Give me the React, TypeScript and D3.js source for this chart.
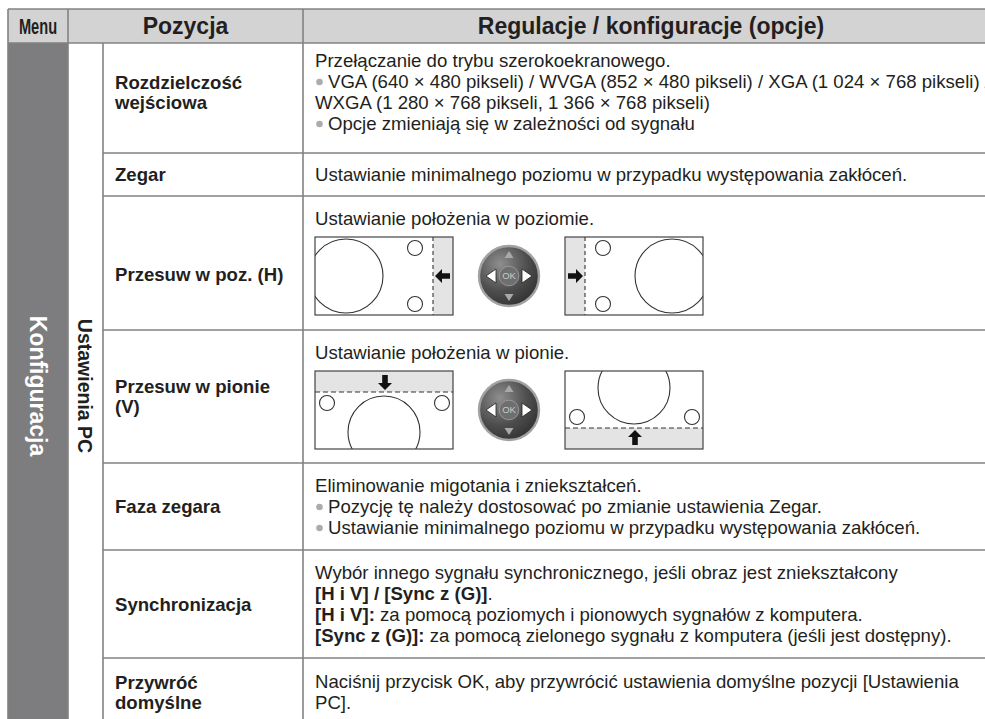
import React, { useEffect, useRef } from "react";
import * as d3 from "d3";

// table content
const headerLabels = ["Menu", "Pozycja", "Regulacje / konfiguracje (opcje)"];
const menuName = "Konfiguracja";
const groupName = "Ustawienia PC";

const itemNames = [
  ["Rozdzielczość", "wejściowa"],
  ["Zegar"],
  ["Przesuw w poz. (H)"],
  ["Przesuw w pionie", "(V)"],
  ["Faza zegara"],
  ["Synchronizacja"],
  ["Przywróć", "domyślne"],
];

// "• " starts a bullet line, **text** is bold
const itemDescriptions = [
  [
    "Przełączanie do trybu szerokoekranowego.",
    "• VGA (640 × 480 pikseli) / WVGA (852 × 480 pikseli) / XGA (1 024 × 768 pikseli) /",
    "WXGA (1 280 × 768 pikseli, 1 366 × 768 pikseli)",
    "• Opcje zmieniają się w zależności od sygnału",
  ],
  ["Ustawianie minimalnego poziomu w przypadku występowania zakłóceń."],
  ["Ustawianie położenia w poziomie."],
  ["Ustawianie położenia w pionie."],
  [
    "Eliminowanie migotania i zniekształceń.",
    "• Pozycję tę należy dostosować po zmianie ustawienia Zegar.",
    "• Ustawianie minimalnego poziomu w przypadku występowania zakłóceń.",
  ],
  [
    "Wybór innego sygnału synchronicznego, jeśli obraz jest zniekształcony",
    "**[H i V] / [Sync z (G)]**.",
    "**[H i V]:** za pomocą poziomych i pionowych sygnałów z komputera.",
    "**[Sync z (G)]:** za pomocą zielonego sygnału z komputera (jeśli jest dostępny).",
  ],
  [
    "Naciśnij przycisk OK, aby przywrócić ustawienia domyślne pozycji [Ustawienia",
    "PC].",
  ],
];

const itemDiagrams = ["", "", "h", "v", "", "", ""];

// layout
const W = 985;
const H = 719;
const FONT = "'Liberation Sans', Arial, Helvetica, sans-serif";
const TEXT = "#231f20";
const LINE = "#828282";
const colEdges = [8, 68, 103, 303, 985];
const headTop = 9;
const headBottom = 43;
const rowHeights = [110, 43, 134, 133, 87, 108, 68];
const labelShift = [-6, 0, 11, 0, 0, 0, 0];
const lineStep = 21;
const bodySize = 18.6;
const boxW = 138;
const boxH = 78;

function segments(line: string) {
  return line.split("**").map((t, i) => ({ t, bold: i % 2 === 1 })).filter((d) => d.t.length);
}

export default function App() {
  const ref = useRef<SVGSVGElement>(null);

  useEffect(() => {
    const svg = d3.select(ref.current);
    svg.selectAll("*").remove();

    const edges = [headBottom, ...Array.from(d3.cumsum(rowHeights), (d) => d + headBottom)];
    const bodyBottom = edges[edges.length - 1];

    const defs = svg.append("defs");
    const grad = defs.append("radialGradient").attr("id", "okbody").attr("cx", "35%").attr("cy", "30%").attr("r", "75%");
    grad.append("stop").attr("offset", "0%").attr("stop-color", "#8e8e8e");
    grad.append("stop").attr("offset", "60%").attr("stop-color", "#4e4e4e");
    grad.append("stop").attr("offset", "100%").attr("stop-color", "#333");

    svg.append("rect").attr("width", W).attr("height", H).attr("fill", "#fff");

    // header band and menu column
    svg.append("rect").attr("x", colEdges[0]).attr("y", headTop).attr("width", W - colEdges[0]).attr("height", headBottom - headTop).attr("fill", "#d3d3d3");
    svg.append("rect").attr("x", colEdges[0]).attr("y", headBottom).attr("width", colEdges[1] - colEdges[0]).attr("height", bodyBottom - headBottom).attr("fill", "#7d7d80");

    const grid = svg.append("g").attr("stroke", LINE).attr("stroke-width", 1.6).attr("fill", "none");
    grid.append("line").attr("x1", colEdges[0]).attr("x2", W).attr("y1", headTop).attr("y2", headTop);
    grid.append("line").attr("x1", colEdges[0]).attr("x2", W).attr("y1", headBottom).attr("y2", headBottom);
    grid.selectAll("line.row").data(edges.slice(1, -1)).join("line").attr("class", "row")
      .attr("x1", colEdges[2]).attr("x2", W).attr("y1", (d) => d).attr("y2", (d) => d);
    grid.append("line").attr("x1", colEdges[0]).attr("x2", colEdges[0]).attr("y1", headTop).attr("y2", bodyBottom);
    grid.append("line").attr("x1", colEdges[1]).attr("x2", colEdges[1]).attr("y1", headTop).attr("y2", bodyBottom);
    grid.append("line").attr("x1", colEdges[2]).attr("x2", colEdges[2]).attr("y1", headBottom).attr("y2", bodyBottom);
    grid.append("line").attr("x1", colEdges[3]).attr("x2", colEdges[3]).attr("y1", headTop).attr("y2", bodyBottom);

    // header labels
    const headY = (headTop + headBottom) / 2;
    svg.append("text").text(headerLabels[0])
      .attr("transform", `translate(${(colEdges[0] + colEdges[1]) / 2},${headY}) scale(0.68,1)`)
      .attr("text-anchor", "middle").attr("dy", "0.36em").attr("font-family", FONT).attr("font-weight", "bold").attr("font-size", 21.5).attr("fill", TEXT);
    svg.append("text").text(headerLabels[1]).attr("x", (colEdges[1] + colEdges[3]) / 2).attr("y", headY)
      .attr("text-anchor", "middle").attr("dy", "0.36em").attr("font-family", FONT).attr("font-weight", "bold").attr("font-size", 23).attr("fill", TEXT);
    svg.append("text").text(headerLabels[2]).attr("x", 651).attr("y", headY)
      .attr("text-anchor", "middle").attr("dy", "0.36em").attr("font-family", FONT).attr("font-weight", "bold").attr("font-size", 23).attr("fill", TEXT);

    // vertical labels
    const vy = 386;
    svg.append("text").text(menuName).attr("transform", `translate(${(colEdges[0] + colEdges[1]) / 2},${vy}) rotate(90)`)
      .attr("text-anchor", "middle").attr("dy", "0.36em").attr("font-family", FONT).attr("font-weight", "bold").attr("font-size", 23).attr("fill", "#fff");
    svg.append("text").text(groupName).attr("transform", `translate(${(colEdges[1] + colEdges[2]) / 2},${vy}) rotate(90)`)
      .attr("text-anchor", "middle").attr("dy", "0.36em").attr("font-family", FONT).attr("font-weight", "bold").attr("font-size", 19.5).attr("fill", TEXT);

    const rows = svg.selectAll("g.item").data(itemNames.map((name, i) => ({ name, desc: itemDescriptions[i], diagram: itemDiagrams[i], i })))
      .join("g").attr("class", "item");

    rows.each(function (d) {
      const g = d3.select(this);
      const top = edges[d.i];
      const bottom = edges[d.i + 1];
      const mid = (top + bottom) / 2 + labelShift[d.i];

      // item name
      g.selectAll("text.name").data(d.name).join("text").attr("class", "name")
        .attr("x", colEdges[2] + 12)
        .attr("y", (_, j) => mid + (j - (d.name.length - 1) / 2) * 20)
        .attr("dy", "0.36em").attr("font-family", FONT).attr("font-weight", "bold").attr("font-size", bodySize).attr("fill", TEXT)
        .text((t) => t);

      // description
      const firstY = d.diagram ? top + 22 : mid - ((d.desc.length - 1) / 2) * lineStep;
      d.desc.forEach((line, j) => {
        const bullet = line.startsWith("• ");
        const y = firstY + j * lineStep;
        const x = colEdges[3] + 12;
        if (bullet) {
          g.append("circle").attr("cx", x + 4.5).attr("cy", y + 0.5).attr("r", 3.3).attr("fill", "#acacac");
        }
        const t = g.append("text").attr("x", bullet ? x + 13 : x).attr("y", y).attr("dy", "0.36em")
          .attr("font-family", FONT).attr("font-size", bodySize).attr("fill", TEXT);
        t.selectAll("tspan").data(segments(bullet ? line.slice(2) : line)).join("tspan")
          .attr("font-weight", (s) => (s.bold ? "bold" : "normal"))
          .text((s) => s.t);
      });

      if (!d.diagram) return;
      const boxTop = top + 41;
      const cy = boxTop + boxH / 2;
      const leftX = colEdges[3] + 12;
      const rightX = 565;
      const okX = (leftX + boxW + rightX) / 2;

      const drawBox = (x0: number, flip: boolean, id: string) => {
        defs.append("clipPath").attr("id", id).append("rect").attr("width", boxW).attr("height", boxH);
        const tr = d.diagram === "h"
          ? (flip ? `translate(${x0 + boxW},${boxTop}) scale(-1,1)` : `translate(${x0},${boxTop})`)
          : (flip ? `translate(${x0},${boxTop + boxH}) scale(1,-1)` : `translate(${x0},${boxTop})`);
        const b = g.append("g").attr("transform", tr);
        b.append("rect").attr("width", boxW).attr("height", boxH).attr("fill", "#fff");
        const inner = b.append("g").attr("clip-path", `url(#${id})`).attr("fill", "none").attr("stroke", "#333").attr("stroke-width", 1.1);
        if (d.diagram === "h") {
          inner.append("rect").attr("x", 118).attr("width", 20).attr("height", boxH).attr("fill", "#e4e4e4").attr("stroke", "none");
          inner.append("line").attr("x1", 118).attr("x2", 118).attr("y1", 0).attr("y2", boxH).attr("stroke-dasharray", "4,3");
          inner.append("circle").attr("cx", 31).attr("cy", 39).attr("r", 37);
          inner.append("circle").attr("cx", 100).attr("cy", 11).attr("r", 7.5);
          inner.append("circle").attr("cx", 100).attr("cy", 67).attr("r", 7.5);
          inner.append("path").attr("d", "M0,0L7,-7L7,-2.8L15,-2.8L15,2.8L7,2.8L7,7Z")
            .attr("transform", "translate(120,39)").attr("fill", "#111").attr("stroke", "none");
        } else {
          inner.append("rect").attr("width", boxW).attr("height", 21).attr("fill", "#e4e4e4").attr("stroke", "none");
          inner.append("line").attr("x1", 0).attr("x2", boxW).attr("y1", 21).attr("y2", 21).attr("stroke-dasharray", "5,3");
          inner.append("circle").attr("cx", 69).attr("cy", 61).attr("r", 36);
          inner.append("circle").attr("cx", 12).attr("cy", 32).attr("r", 7.5);
          inner.append("circle").attr("cx", 127).attr("cy", 32).attr("r", 7.5);
          inner.append("path").attr("d", "M0,0L7,-7L7,-2.8L15,-2.8L15,2.8L7,2.8L7,7Z")
            .attr("transform", "translate(70,19) rotate(-90)").attr("fill", "#111").attr("stroke", "none");
        }
        b.append("rect").attr("width", boxW).attr("height", boxH).attr("fill", "none").attr("stroke", "#444").attr("stroke-width", 1.2);
      };
      drawBox(leftX, false, `clip-${d.i}-a`);
      drawBox(rightX, true, `clip-${d.i}-b`);

      // remote OK pad
      const ok = g.append("g").attr("transform", `translate(${okX},${cy})`);
      ok.append("circle").attr("r", 30).attr("fill", "url(#okbody)").attr("stroke", "#a2a2a2").attr("stroke-width", 2.4);
      ok.append("circle").attr("r", 9.8).attr("fill", "#6f6f6f").attr("stroke", "#a0a0a0").attr("stroke-width", 0.8);
      ok.append("text").text("OK").attr("text-anchor", "middle").attr("dy", "0.36em")
        .attr("font-family", FONT).attr("font-size", 9.5).attr("fill", "#c9c9c9");
      ok.append("path").attr("d", "M-23,0L-13,-7L-13,7Z").attr("fill", "#fff").attr("stroke", "#222").attr("stroke-width", 0.8);
      ok.append("path").attr("d", "M23,0L13,-7L13,7Z").attr("fill", "#fff").attr("stroke", "#222").attr("stroke-width", 0.8);
      ok.append("path").attr("d", "M0,-25L-4.5,-18L4.5,-18Z").attr("fill", "#a9a9a9");
      ok.append("path").attr("d", "M0,25L-4.5,18L4.5,18Z").attr("fill", "#a9a9a9");
    });
  }, []);

  return (
    <svg
      ref={ref}
      width={W}
      height={H}
      style={{ position: "absolute", left: 0, top: 0, display: "block" }}
    />
  );
}
